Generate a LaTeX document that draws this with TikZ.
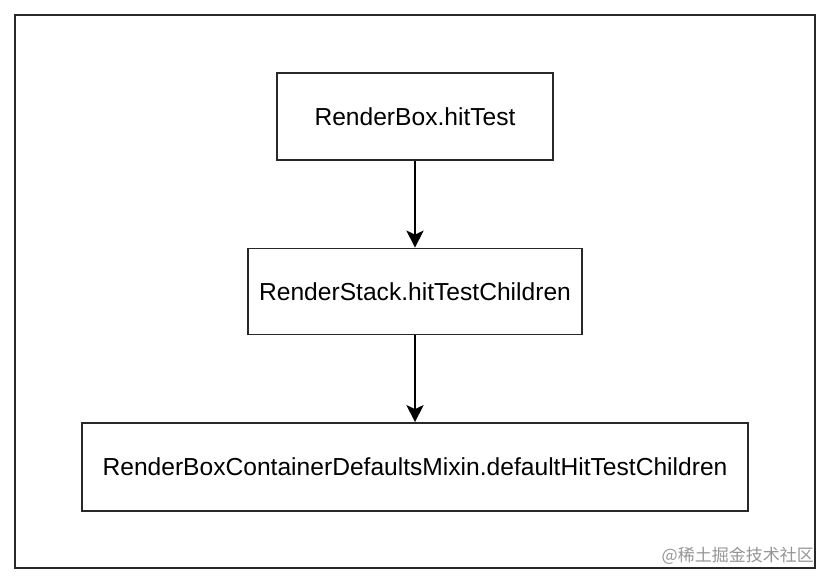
\documentclass[tikz,border=0pt]{standalone}
\usepackage{fontspec}
\setmainfont{Liberation Sans}
\newfontfamily\cjk{Noto Sans CJK SC}
\usetikzlibrary{arrows.meta}
\definecolor{edge}{RGB}{40,40,40}
\definecolor{wm}{RGB}{150,150,150}
\begin{document}
\begin{tikzpicture}[x=1pt,y=-1pt,
  boxstyle/.style={draw=edge,line width=1.7pt,fill=white,inner sep=0pt,font=\fontsize{24.6}{29}\selectfont},
  flow/.style={draw=black,line width=2.6pt,-{Stealth[length=17pt,width=17pt,inset=4pt]}}]
\useasboundingbox (0,0) rectangle (832,584);
\fill[white] (0,0) rectangle (832,584);
\node[draw=edge,line width=1.7pt,minimum width=800pt,minimum height=553pt,inner sep=0pt] (frame) at (415,291.5) {};
\node[boxstyle,minimum width=276pt,minimum height=87pt] (a) at (415,116.5) {RenderBox.hitTest};
\node[boxstyle,minimum width=334pt,minimum height=86pt] (b) at (415,291.5) {RenderStack.hitTestChildren};
\node[boxstyle,minimum width=666pt,minimum height=88pt] (c) at (415,467) {RenderBoxContainerDefaultsMixin.defaultHitTestChildren};
\draw[flow] (a) -- (b);
\draw[flow] (b) -- (c);
\node[text=wm,font=\cjk\fontsize{17}{20}\selectfont,anchor=east,inner sep=0pt] (wmk) at (814,556) {@稀土掘金技术社区};
\end{tikzpicture}
\end{document}
